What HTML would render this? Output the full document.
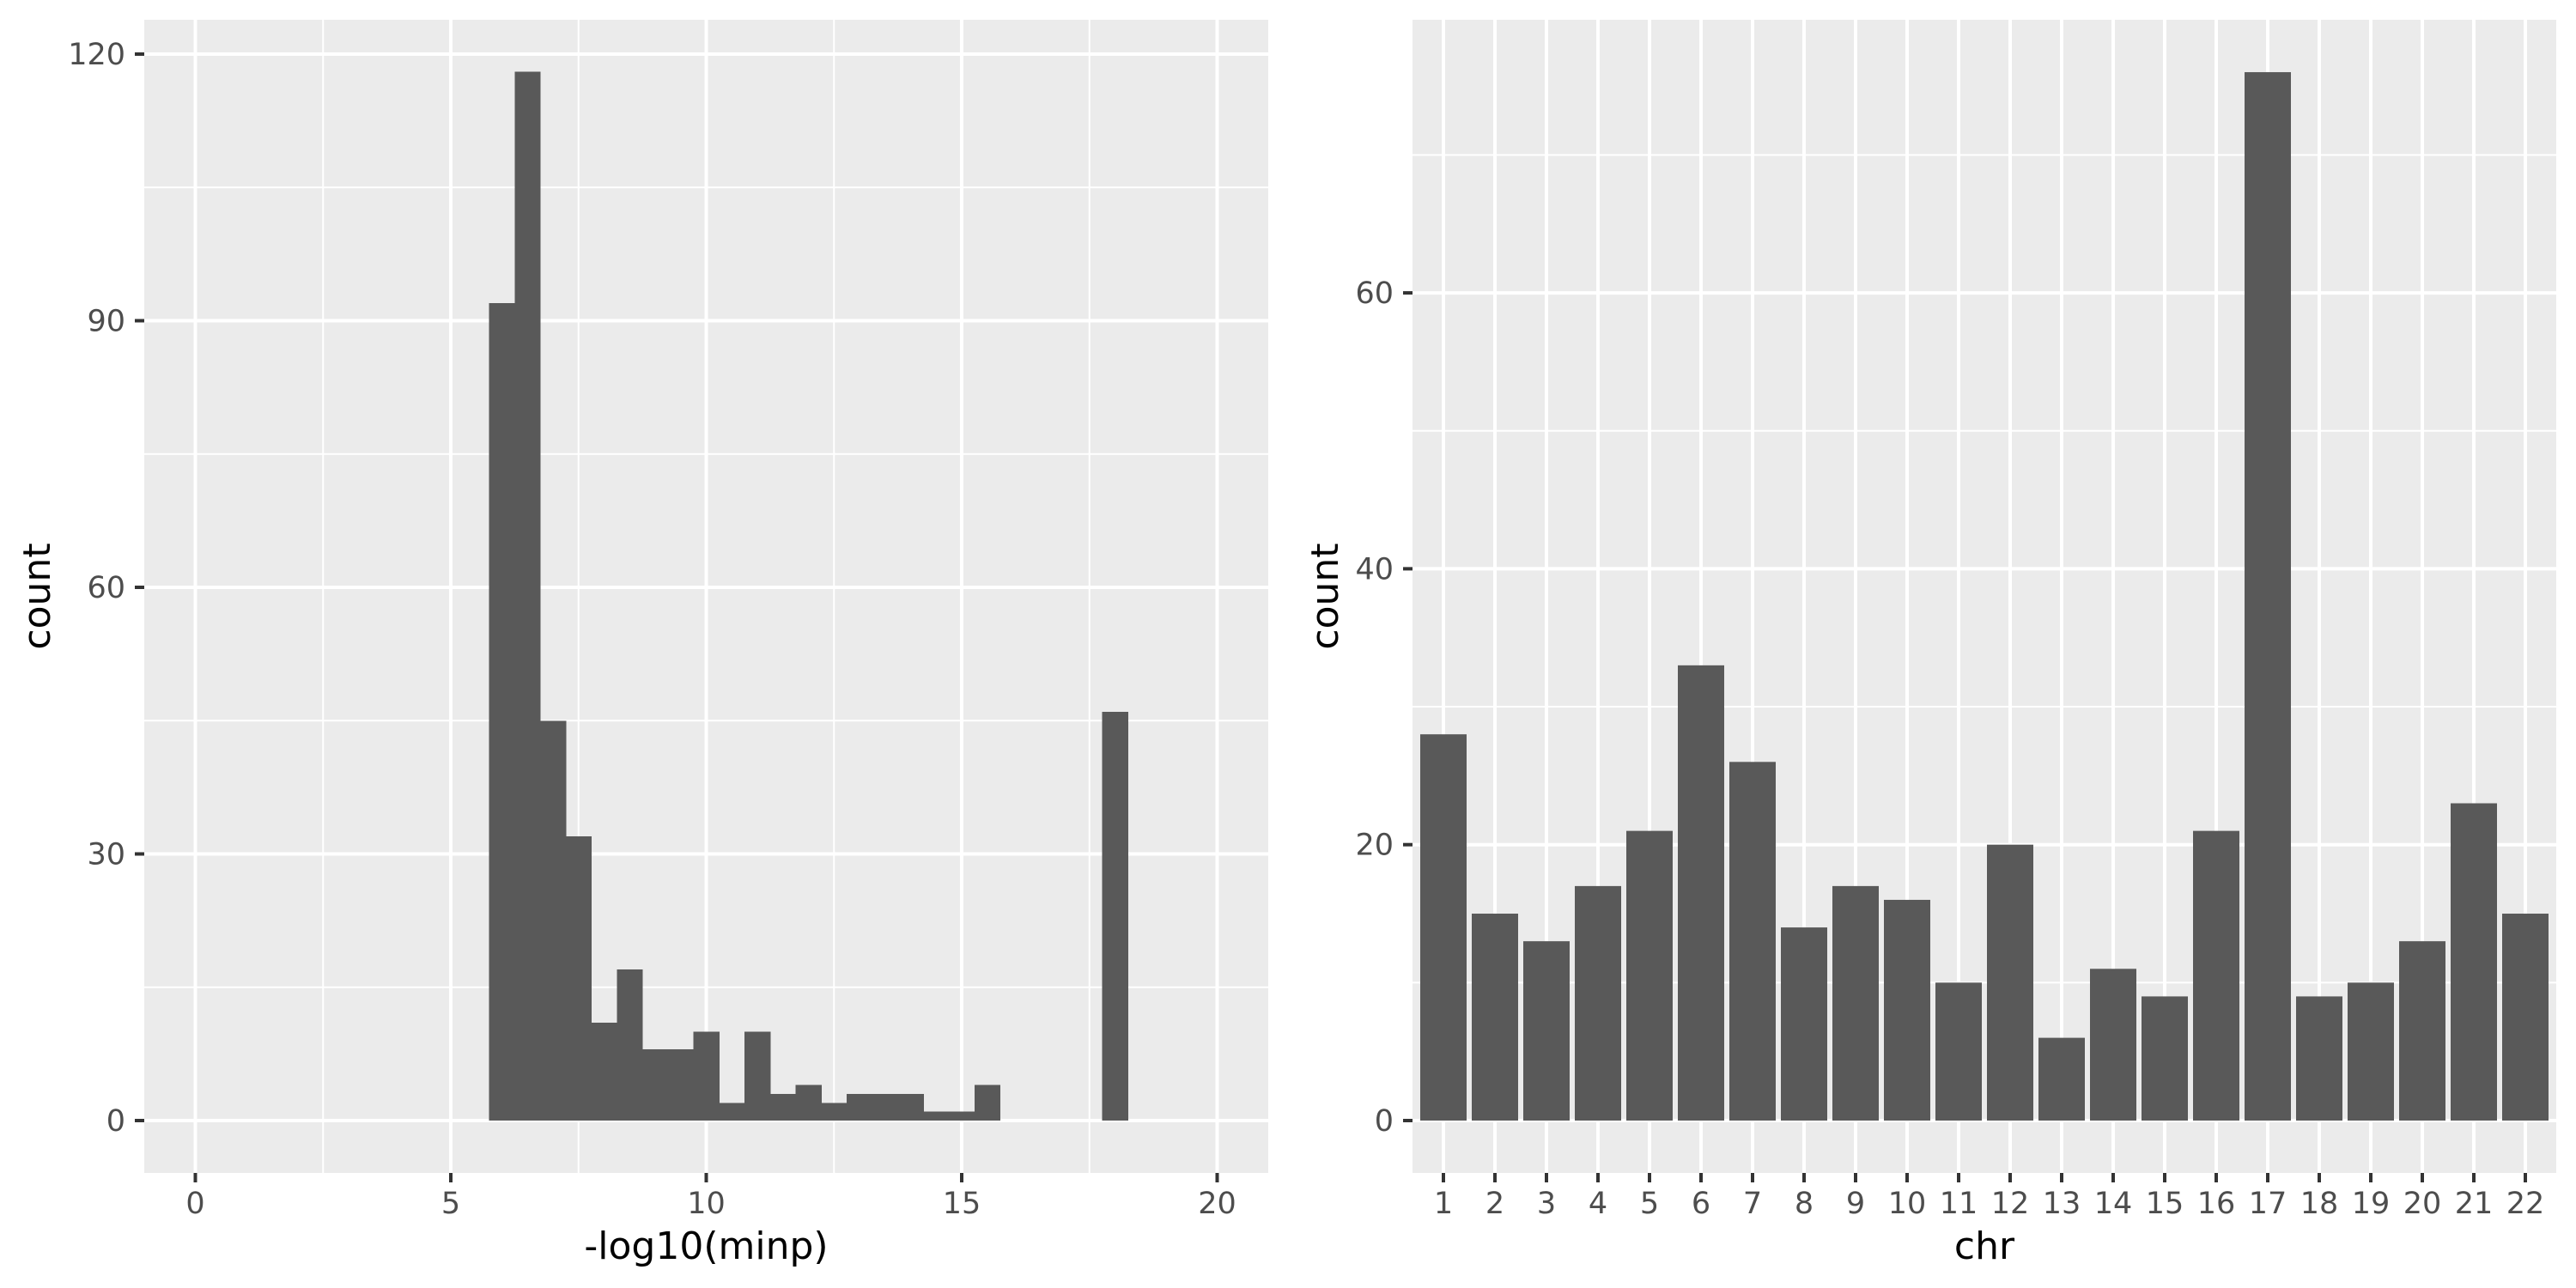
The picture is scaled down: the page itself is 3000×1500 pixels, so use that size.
<!DOCTYPE html>
<html><head><meta charset="utf-8"><style>
html,body{margin:0;padding:0;background:#fff}
svg{display:block}
text{font-family:"DejaVu Sans","Liberation Sans",sans-serif}
</style></head><body>
<svg id="chart" width="3000" height="1500" viewBox="0 0 3000 1500" xmlns="http://www.w3.org/2000/svg"></svg>
<script>
// Left histogram data
const histBinStarts = [5.75,6.25,6.75,7.25,7.75,8.25,8.75,9.25,9.75,10.25,10.75,11.25,11.75,12.25,12.75,13.25,13.75,14.25,14.75,15.25,17.75];
const histCounts = [92,118,45,32,11,17,8,8,10,2,10,3,4,2,3,3,3,1,1,4,46];
const histBinWidth = 0.5;
const histXTicks = [0,5,10,15,20];
const histYTicks = [0,30,60,90,120];
// Right bar chart data
const chrCategories = ["1","2","3","4","5","6","7","8","9","10","11","12","13","14","15","16","17","18","19","20","21","22"];
const chrCounts = [28,15,13,17,21,33,26,14,17,16,10,20,6,11,9,21,76,9,10,13,23,15];
const chrYTicks = [0,20,40,60];

const svg = document.getElementById('chart');
const NS = 'http://www.w3.org/2000/svg';
function mk(tag, attrs, parent){
  const e = document.createElementNS(NS, tag);
  for (const k in attrs) e.setAttribute(k, attrs[k]);
  (parent||svg).appendChild(e);
  return e;
}
const TOP=23, BOT=1366;

// ---------- Left panel ----------
const L = {x0:168, x1:1477};
const lxMin=-1, lxMax=21;
const lx = v => L.x0 + (v - lxMin) / (lxMax - lxMin) * (L.x1 - L.x0);
const ly = v => 1305 - v * (1305-63)/120;
const gL = mk('g', {});


mk('rect', {x:L.x0, y:TOP, width:L.x1-L.x0, height:BOT-TOP, fill:'#ebebeb'}, gL);
for (let i=0;i<histYTicks.length-1;i++){
  const m=(histYTicks[i]+histYTicks[i+1])/2;
  mk('line',{x1:L.x0,x2:L.x1,y1:ly(m),y2:ly(m),stroke:'#fff','stroke-width':2},gL);
}
for (let i=0;i<histXTicks.length-1;i++){
  const m=(histXTicks[i]+histXTicks[i+1])/2;
  mk('line',{x1:lx(m),x2:lx(m),y1:TOP,y2:BOT,stroke:'#fff','stroke-width':2},gL);
}
histYTicks.forEach(t=>{
  mk('line',{x1:L.x0,x2:L.x1,y1:ly(t),y2:ly(t),stroke:'#fff','stroke-width':4},gL);
  mk('line',{x1:L.x0-11,x2:L.x0,y1:ly(t),y2:ly(t),stroke:'#333','stroke-width':4},gL);
  const tx = mk('text',{x:L.x0-22,y:ly(t)+12,'text-anchor':'end','font-size':35,fill:'#4d4d4d'},gL);
  tx.textContent=t;
  
  
});
histXTicks.forEach(t=>{
  mk('line',{x1:lx(t),x2:lx(t),y1:TOP,y2:BOT,stroke:'#fff','stroke-width':4},gL);
  mk('line',{x1:lx(t),x2:lx(t),y1:BOT,y2:BOT+11,stroke:'#333','stroke-width':4},gL);
  const tx = mk('text',{x:lx(t),y:1413,'text-anchor':'middle','font-size':35,fill:'#4d4d4d'},gL);
  tx.textContent=t;
  
  
});
histBinStarts.forEach((s,i)=>{
  const r = mk('rect',{x:lx(s),y:ly(histCounts[i]),width:lx(s+histBinWidth)-lx(s)+0.5,height:ly(0)-ly(histCounts[i]),fill:'#595959','shape-rendering':'crispEdges'},gL);
  
  
});
let t1 = mk('text',{x:(L.x0+L.x1)/2,y:1466,'text-anchor':'middle','font-size':44,fill:'#000'},gL);
t1.textContent='-log10(minp)';


let t2 = mk('text',{x:58,y:(TOP+BOT)/2,'text-anchor':'middle','font-size':44,fill:'#000',transform:`rotate(-90 58 ${(TOP+BOT)/2})`},gL);
t2.textContent='count';



// ---------- Right panel ----------
const R = {x0:1645, x1:2977};
const rMax = Math.max(...chrCounts);
const ryMax = rMax*1.05;
const ry = v => 1305 - v * (1305-TOP)/ryMax;
const step = (R.x1-R.x0)/(chrCategories.length+0.2);
const rx = i => R.x0 + step*(0.6+i);
const gR = mk('g', {});


mk('rect', {x:R.x0, y:TOP, width:R.x1-R.x0, height:BOT-TOP, fill:'#ebebeb'}, gR);
for (let i=0;i<chrYTicks.length;i++){
  const m=chrYTicks[i]+10;
  if (ry(m) > TOP) mk('line',{x1:R.x0,x2:R.x1,y1:ry(m),y2:ry(m),stroke:'#fff','stroke-width':2},gR);
}
chrYTicks.forEach(t=>{
  mk('line',{x1:R.x0,x2:R.x1,y1:ry(t),y2:ry(t),stroke:'#fff','stroke-width':4},gR);
  mk('line',{x1:R.x0-11,x2:R.x0,y1:ry(t),y2:ry(t),stroke:'#333','stroke-width':4},gR);
  const tx = mk('text',{x:R.x0-22,y:ry(t)+12,'text-anchor':'end','font-size':35,fill:'#4d4d4d'},gR);
  tx.textContent=t;
  
  
});
chrCategories.forEach((c,i)=>{
  mk('line',{x1:rx(i),x2:rx(i),y1:TOP,y2:BOT,stroke:'#fff','stroke-width':4},gR);
  mk('line',{x1:rx(i),x2:rx(i),y1:BOT,y2:BOT+11,stroke:'#333','stroke-width':4},gR);
  const tx = mk('text',{x:rx(i),y:1413,'text-anchor':'middle','font-size':35,fill:'#4d4d4d'},gR);
  tx.textContent=c;
  
  
});
chrCounts.forEach((v,i)=>{
  const r = mk('rect',{x:rx(i)-step*0.45,y:ry(v),width:step*0.9,height:ry(0)-ry(v),fill:'#595959'},gR);
  
  
});
let t3 = mk('text',{x:(R.x0+R.x1)/2,y:1466,'text-anchor':'middle','font-size':44,fill:'#000'},gR);
t3.textContent='chr';


const ryc=(TOP+BOT)/2;
let t4 = mk('text',{x:1558,y:ryc,'text-anchor':'middle','font-size':44,fill:'#000',transform:`rotate(-90 1558 ${ryc})`},gR);
t4.textContent='count';


</script>
</body></html>
